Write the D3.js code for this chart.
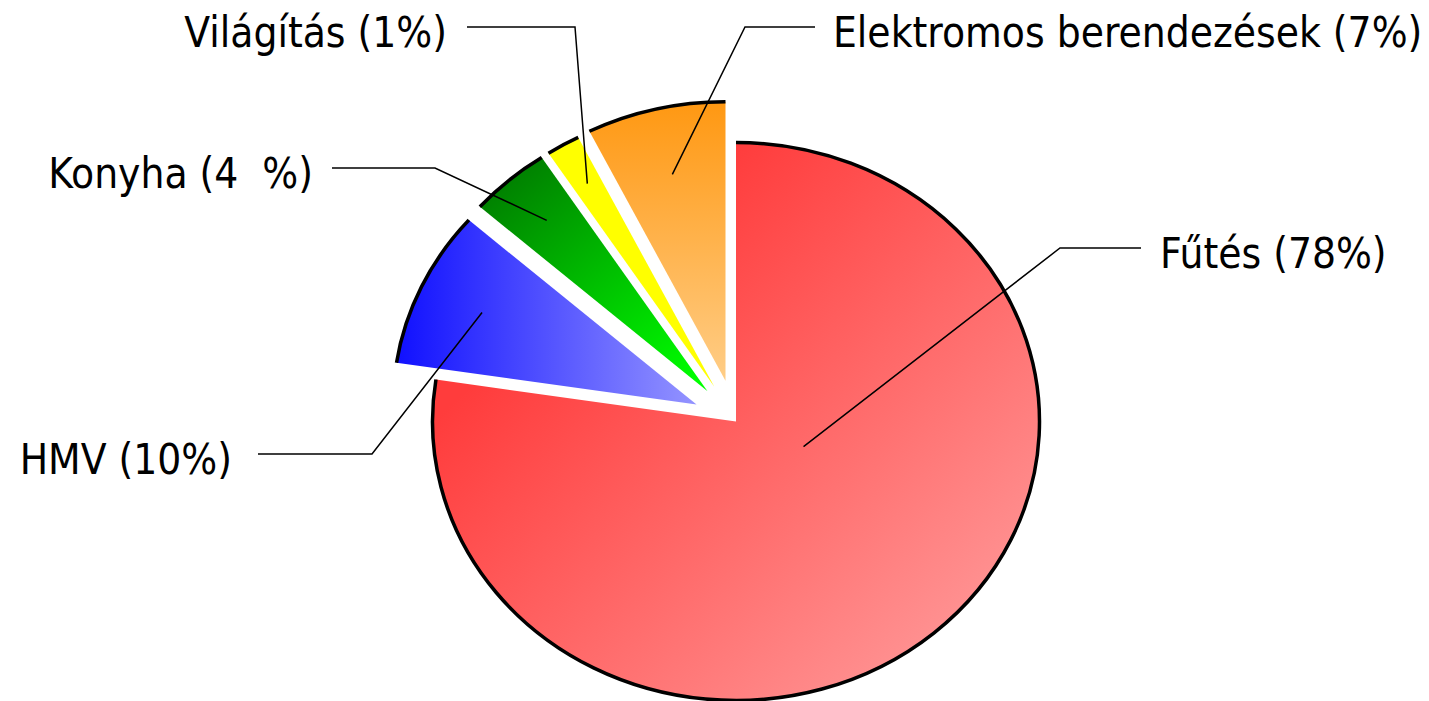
<!doctype html>
<html>
<head>
<meta charset="utf-8">
<style>
  body { margin: 0; background: #fff; }
  .label {
    font-family: "DejaVu Sans Condensed", "DejaVu Sans", sans-serif;
    font-stretch: condensed;
    font-size: 42px;
    fill: #000;
    white-space: pre;
  }
  .leader { fill: none; stroke: #000; stroke-width: 1.5px; }
  .rim { fill: none; stroke: #000; stroke-width: 3.5px; }
</style>
<script src="https://d3js.org/d3.v7.min.js"></script>
</head>
<body>
<svg width="1429" height="701"></svg>
<script>
// data (slice sizes as drawn, labels as printed)
var categories = ["Fűtés", "HMV", "Konyha", "Világítás", "Elektromos berendezések"];
var values = [77.4, 9.1, 4.3, 1.8, 7.4];
var labels = ["Fűtés (78%)", "HMV (10%)", "Konyha (4  %)", "Világítás (1%)", "Elektromos berendezések (7%)"];

// gradient fills, one per slice
var gradients = [
  { x1: 0.25, y1: 0.25, x2: 1, y2: 1, from: "#ff3c3c", to: "#ffa4a4" },
  { x1: 0, y1: 0, x2: 1, y2: 0, from: "#1010ff", to: "#9494ff" },
  { x1: 0.1, y1: 0, x2: 0.9, y2: 1, from: "#007800", to: "#00ff00" },
  { x1: 0, y1: 0, x2: 0, y2: 1, from: "#ffff00", to: "#ffff00" },
  { x1: 0, y1: 0, x2: 0, y2: 1, from: "#ff9812", to: "#ffcd86" }
];
var explode = [0, 40, 40, 40, 42];

// leader lines / label placement
var labelLayout = [
  { side: "right", lineX: 1141, lineY: 248, elbowX: 1060, gap: 19, endR: 0.24, endAngle: 112 },
  { side: "left",  lineX: 258,  lineY: 454, elbowX: 372,  gap: 26, endR: 0.78 },
  { side: "left",  lineX: 332,  lineY: 168, elbowX: 435,  gap: 19, endR: 0.81 },
  { side: "left",  lineX: 467,  lineY: 27,  elbowX: 575,  gap: 20, endR: 0.84 },
  { side: "right", lineX: 815,  lineY: 27,  elbowX: 745,  gap: 18, endR: 0.76 }
];

var svg = d3.select("svg"),
    cx = 736, cy = 421.5,
    radius = 279,
    sx = 303.5 / 279;   // the pie is stretched sideways

var defs = svg.append("defs");
gradients.forEach(function(g, i) {
  var lg = defs.append("linearGradient")
    .attr("id", "grad" + i)
    .attr("x1", g.x1).attr("y1", g.y1)
    .attr("x2", g.x2).attr("y2", g.y2);
  lg.append("stop").attr("offset", 0).attr("stop-color", g.from);
  lg.append("stop").attr("offset", 1).attr("stop-color", g.to);
});

var pie = d3.pie().sort(null).value(function(d) { return d; });
var arcs = pie(values);

var arc = d3.arc().innerRadius(0).outerRadius(radius);

function offsetOf(d, i) {
  var mid = (d.startAngle + d.endAngle) / 2;
  return [explode[i] * Math.sin(mid) * sx, -explode[i] * Math.cos(mid)];
}

function rimPath(d) {
  var p = d3.path();
  p.arc(0, 0, radius, d.startAngle - Math.PI / 2, d.endAngle - Math.PI / 2);
  return p.toString();
}

var slices = svg.selectAll(".slice")
  .data(arcs)
  .enter().append("g")
  .attr("class", "slice")
  .attr("transform", function(d, i) {
    var o = offsetOf(d, i);
    return "translate(" + (cx + o[0]) + "," + (cy + o[1]) + ") scale(" + sx + ",1)";
  });

slices.append("path")
  .attr("d", arc)
  .attr("fill", function(d, i) { return "url(#grad" + i + ")"; });

slices.append("path")
  .attr("class", "rim")
  .attr("vector-effect", "non-scaling-stroke")
  .attr("d", rimPath);

// labels with leader lines
var lab = svg.selectAll(".lab")
  .data(arcs)
  .enter().append("g")
  .attr("class", "lab");

lab.append("path")
  .attr("class", "leader")
  .attr("d", function(d, i) {
    var L = labelLayout[i],
        o = offsetOf(d, i),
        a = L.endAngle != null ? L.endAngle * Math.PI / 180 : (d.startAngle + d.endAngle) / 2,
        rr = L.endR * radius,
        ex = cx + o[0] + rr * Math.sin(a) * sx,
        ey = cy + o[1] - rr * Math.cos(a);
    return "M" + L.lineX + "," + L.lineY + "L" + L.elbowX + "," + L.lineY + "L" + ex + "," + ey;
  });

lab.append("text")
  .attr("class", "label")
  .attr("x", function(d, i) {
    var L = labelLayout[i];
    return L.side === "right" ? L.lineX + L.gap : L.lineX - L.gap;
  })
  .attr("y", function(d, i) { return labelLayout[i].lineY + 20; })
  .attr("text-anchor", function(d, i) { return labelLayout[i].side === "right" ? "start" : "end"; })
  .text(function(d, i) { return labels[i]; });
</script>
</body>
</html>
